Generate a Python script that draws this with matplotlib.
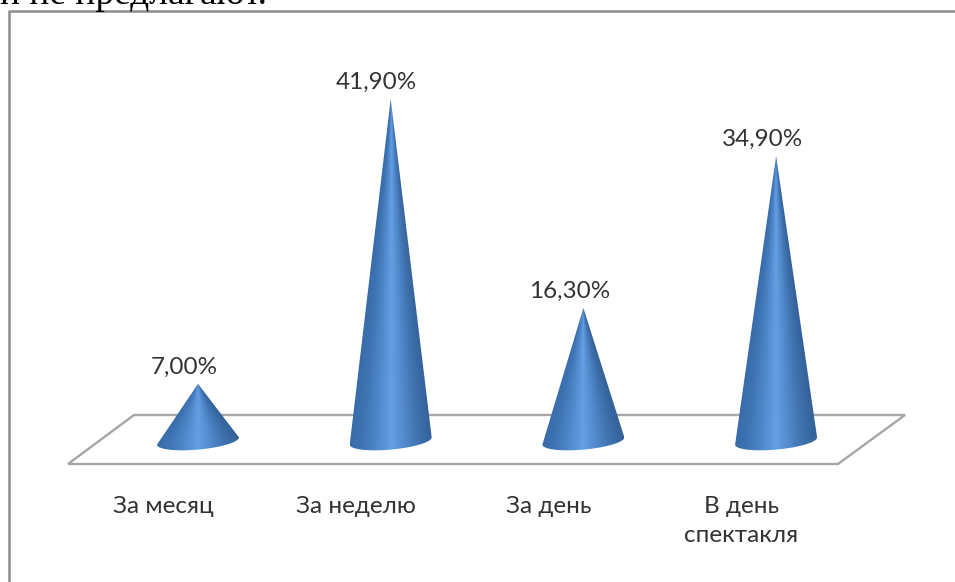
import numpy as np
import matplotlib
matplotlib.use('Agg')
import matplotlib.pyplot as plt
from matplotlib.patches import Polygon
from matplotlib.colors import LinearSegmentedColormap

categories = ['За месяц', 'За неделю', 'За день', 'В день\nспектакля']
values = [7.0, 41.9, 16.3, 34.9]
value_labels = ['7,00%', '41,90%', '16,30%', '34,90%']
caption = 'и не предлагают.'

WIDTH, HEIGHT = 955, 582
plt.rcParams['font.family'] = ['Lato', 'Open Sans', 'DejaVu Sans']

# pixels per category step and per percent on the chart's axes
STEP_PX = 192.7
UNIT_PX = 8.16
ZERO_X_PX = 198
ZERO_Y_PX = 441

fig = plt.figure(figsize=(WIDTH / 100, HEIGHT / 100), dpi=100)
ax = fig.add_axes([0, 0, 1, 1])
ax.set_xlim(-ZERO_X_PX / STEP_PX, (WIDTH - ZERO_X_PX) / STEP_PX)
ax.set_ylim((ZERO_Y_PX - HEIGHT) / UNIT_PX, ZERO_Y_PX / UNIT_PX)
ax.axis('off')

cone_cmap = LinearSegmentedColormap.from_list(
    'cone', ['#386ba8', '#3f76b6', '#5089cc', '#659fe4', '#5189cb', '#3f71ad', '#34629a'])

half_w = 41 / STEP_PX
floor_h = 8.6 / UNIT_PX
tilt = 3.6 / UNIT_PX


def draw_cone(x0, value):
    # outline: apex down the left side, round the tilted base, back up the right side
    t = np.linspace(np.pi, 0, 60)
    base_x = x0 + half_w * np.cos(t)
    base_y = -floor_h * np.sin(t) + tilt * np.cos(t)
    outline = np.column_stack([np.r_[x0, base_x], np.r_[value, base_y]])

    xs = np.linspace(x0 - half_w, x0 + half_w, 200)
    ys = np.linspace(-floor_h - tilt, value, 500)
    gx, gy = np.meshgrid(xs, ys)
    # shading runs along the surface towards the apex
    local_w = half_w * np.clip((value - gy) / value, 0.002, 1)
    u = np.clip((gx - x0) / local_w, -1, 1)
    shade = (u + 1) / 2
    im = ax.imshow(shade, extent=(xs[0], xs[-1], ys[0], ys[-1]), origin='lower',
                   cmap=cone_cmap, vmin=0, vmax=1, aspect='auto', zorder=3,
                   interpolation='bilinear')
    clip = Polygon(outline, closed=True, transform=ax.transData, fc='none', ec='none')
    ax.add_patch(clip)
    im.set_clip_path(clip)


# floor of the chart, a parallelogram behind the cones
floor_x = np.array([68, 838, 905, 134])
floor_y = np.array([464, 464, 415, 415])
ax.add_patch(Polygon(np.column_stack([(floor_x - ZERO_X_PX) / STEP_PX,
                                      (ZERO_Y_PX - floor_y) / UNIT_PX]),
                     closed=True, fc='white', ec='#a6a6a6', lw=1.7, zorder=2,
                     joinstyle='miter'))

for i, (v, lab, cat) in enumerate(zip(values, value_labels, categories)):
    draw_cone(i, v)
    ax.annotate(lab, (i, v), xytext=(-14, 6), textcoords='offset pixels',
                ha='center', va='bottom', fontsize=17.5, color='#333333', zorder=4)
    ax.annotate(cat, (i, 0), xytext=(-35, -55), textcoords='offset pixels',
                ha='center', va='top', fontsize=17.5, color='#333333',
                linespacing=1.45, zorder=4)

# chart frame, open to the right and below, and the line of page text above it
fig.add_artist(plt.Line2D([9 / WIDTH, 9 / WIDTH, 1], [0, 1 - 10.5 / HEIGHT, 1 - 10.5 / HEIGHT],
                          color='#8c8c8c', lw=1.8))
fig.text(0 / WIDTH, 1 - 4 / HEIGHT, caption, family=['Liberation Serif'], fontsize=27,
         color='black', ha='left', va='baseline')

fig.savefig('out.png', dpi=100, facecolor='white')
